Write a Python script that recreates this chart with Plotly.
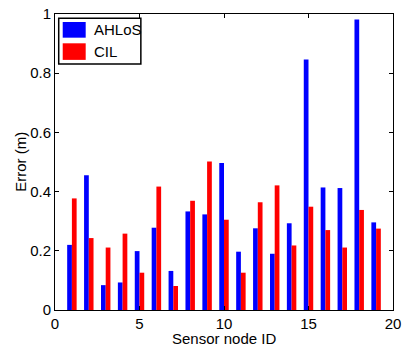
import plotly.graph_objects as go

node_ids = list(range(1, 20))
ahlos = [0.220, 0.455, 0.084, 0.093, 0.199, 0.278, 0.132, 0.333, 0.323, 0.497,
         0.197, 0.276, 0.190, 0.293, 0.846, 0.414, 0.412, 0.981, 0.296]
cil = [0.377, 0.243, 0.211, 0.258, 0.126, 0.417, 0.081, 0.369, 0.502, 0.305,
       0.126, 0.364, 0.421, 0.218, 0.349, 0.270, 0.211, 0.338, 0.275]
series_names = ["AHLoS", "CIL"]
series_colors = ["#0000ff", "#ff0000"]
x_ticks = [0, 5, 10, 15, 20]
y_ticks = [0, 0.2, 0.4, 0.6, 0.8, 1]
y_tick_labels = ["0", "0.2", "0.4", "0.6", "0.8", "1"]
x_title = "Sensor node ID"
y_title = "Error (m)"

font = dict(family="Liberation Sans, Arial, Helvetica, sans-serif", size=15, color="black")

fig = go.Figure()
for name, vals, col in zip(series_names, [ahlos, cil], series_colors):
    fig.add_trace(go.Bar(x=node_ids, y=vals, name=name, showlegend=False,
                         marker=dict(color=col, line=dict(width=0))))

# MATLAB-style legend box with large swatches
fig.add_shape(type="rect", xref="paper", yref="paper", x0=0.011, x1=0.254, y0=0.831, y1=0.986,
              line=dict(color="black", width=1.5), fillcolor="white", layer="above")
sw_y = [(0.920, 0.973), (0.845, 0.901)]
txt_y = [0.946, 0.872]
for name, col, (y0, y1), ty in zip(series_names, series_colors, sw_y, txt_y):
    fig.add_shape(type="rect", xref="paper", yref="paper", x0=0.0228, x1=0.0908, y0=y0, y1=y1,
                  line=dict(width=0), fillcolor=col, layer="above")
    fig.add_annotation(xref="paper", yref="paper", x=0.1086, y=ty, text=name, showarrow=False,
                       xanchor="left", yanchor="middle", font=font)

# axis titles placed like the MATLAB figure
fig.add_annotation(xref="paper", yref="paper", x=0.5, y=-0.097, text=x_title, showarrow=False,
                   xanchor="center", yanchor="middle", font=font)
fig.add_annotation(xref="paper", yref="paper", x=-0.104, y=0.5, text=y_title, showarrow=False,
                   textangle=-90, xanchor="center", yanchor="middle", font=font)

fig.update_layout(
    width=403, height=346,
    margin=dict(l=55, r=10, t=14, b=36),
    paper_bgcolor="white", plot_bgcolor="white",
    font=font,
    barmode="group", bargap=0.44, bargroupgap=0,
)
fig.update_xaxes(range=[0, 20], tickvals=x_ticks, ticks="inside", ticklen=4,
                 showgrid=False, zeroline=False, showline=True, linecolor="black",
                 linewidth=1, mirror="ticks", tickcolor="black", automargin=False)
fig.update_yaxes(range=[0, 1], tickvals=y_ticks, ticktext=y_tick_labels, ticks="inside",
                 ticklen=4, showgrid=False, zeroline=False, showline=True,
                 linecolor="black", linewidth=1, mirror="ticks", tickcolor="black",
                 automargin=False)

fig.write_html("out.html", config={"displayModeBar": False},
               post_script="document.body.style.margin='0';document.body.style.overflow='hidden';")
